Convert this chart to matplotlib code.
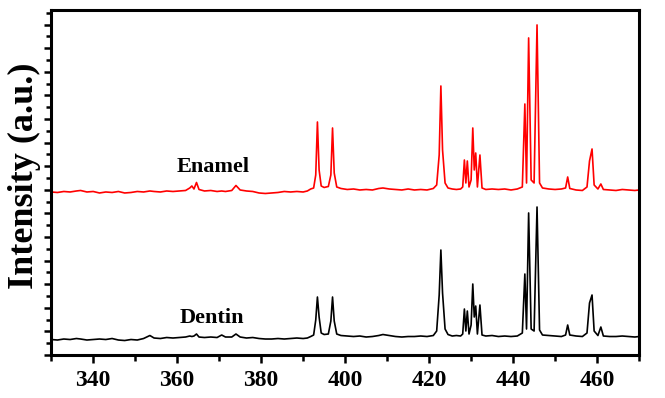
import matplotlib
matplotlib.use("Agg")
import matplotlib.pyplot as plt
from matplotlib.ticker import MultipleLocator, NullFormatter

# Raman shift grid (shared by both spectra) and intensities
shift = [
    330.0, 331.5, 333.0, 334.5, 336.0, 337.0, 338.5, 340.0, 341.5, 343.0,
    344.5, 346.0, 347.5, 349.0, 350.5, 352.0, 353.5, 354.5, 356.0, 357.5,
    359.0, 360.5, 362.0, 363.0, 363.5, 364.0, 364.6, 365.2, 366.5, 368.0,
    369.5, 370.6, 371.5, 373.0, 374.0, 375.0, 376.5, 378.0, 379.5, 381.0,
    382.5, 384.0, 385.5, 387.0, 388.5, 390.0, 391.0, 391.8, 392.5, 393.0,
    393.4, 393.8, 394.3, 395.0, 396.0, 396.6, 397.0, 397.4, 398.0, 399.0,
    400.5, 402.0, 403.5, 405.0, 406.5, 408.0, 409.0, 410.5, 412.0, 413.5,
    415.0, 416.5, 418.0, 419.5, 421.0, 421.8, 422.4, 422.8, 423.2, 423.8,
    424.5, 425.5, 426.5, 427.5, 428.0, 428.4, 428.75, 429.1, 429.5, 430.0,
    430.4, 430.75, 431.1, 431.5, 432.1, 432.6, 433.5, 435.0, 436.5, 438.0,
    439.5, 441.0, 442.2, 442.8, 443.2, 443.7, 444.3, 445.0, 445.7, 446.3,
    447.0, 448.5, 450.0, 451.5, 452.5, 453.0, 453.5, 455.0, 456.5, 457.6,
    458.2, 458.8, 459.3, 460.2, 460.9, 461.5, 463.0, 464.5, 466.0, 467.5,
    469.0, 470.0,
]
enamel = [
    163.0, 162.5, 163.5, 163.0, 164.0, 164.5, 163.0, 163.5, 162.0, 163.0,
    162.5, 163.5, 162.0, 162.5, 163.5, 163.0, 164.0, 163.5, 163.0, 164.0,
    163.5, 164.0, 164.5, 167.0, 169.0, 166.0, 172.5, 165.5, 164.0, 164.5,
    163.5, 164.0, 163.5, 164.5, 169.5, 165.0, 164.0, 163.5, 162.0, 161.5,
    162.0, 162.5, 163.5, 163.0, 163.5, 163.0, 164.0, 166.0, 167.0, 180.0,
    233.0, 185.0, 169.0, 167.5, 168.5, 180.0, 227.0, 182.0, 168.0, 166.5,
    165.5, 166.0, 165.0, 165.5, 165.0, 166.5, 167.0, 166.0, 165.5, 165.0,
    166.0, 165.0, 165.5, 165.0, 166.5, 170.0, 200.0, 269.0, 205.0, 172.0,
    167.0, 166.0, 165.5, 166.0, 168.0, 195.0, 172.0, 194.0, 168.0, 175.0,
    227.0, 185.0, 202.0, 168.0, 200.0, 167.0, 165.5, 166.0, 165.5, 166.0,
    165.0, 166.0, 168.0, 251.0, 172.0, 317.0, 175.0, 172.0, 330.0, 172.0,
    167.0, 166.0, 165.5, 166.0, 167.0, 178.0, 166.5, 165.0, 164.5, 168.0,
    194.0, 206.0, 170.0, 166.0, 171.0, 165.5, 165.0, 164.5, 165.5, 165.0,
    164.5, 165.0,
]
dentin = [
    15.5, 15.0, 16.0, 15.5, 16.5, 16.0, 15.0, 15.5, 16.0, 15.5,
    16.5, 15.0, 14.5, 15.5, 15.0, 16.5, 19.5, 17.0, 16.5, 17.5,
    17.0, 17.5, 18.0, 19.0, 18.5, 19.0, 21.0, 18.0, 17.5, 18.0,
    17.5, 20.0, 18.0, 18.0, 21.0, 18.0, 17.0, 17.5, 16.5, 16.0,
    16.0, 16.5, 16.0, 16.5, 17.0, 16.5, 17.0, 18.5, 20.0, 35.0,
    58.0, 38.0, 22.0, 20.5, 21.0, 34.0, 58.0, 34.0, 21.0, 19.5,
    19.0, 18.5, 19.0, 18.0, 18.5, 19.5, 20.5, 19.5, 18.5, 18.0,
    18.5, 18.5, 19.0, 18.5, 19.5, 24.0, 60.0, 105.0, 62.0, 26.0,
    20.5, 19.0, 19.5, 19.0, 21.0, 46.0, 24.0, 44.0, 21.0, 30.0,
    71.0, 38.0, 49.0, 21.0, 50.0, 20.0, 19.0, 19.5, 18.5, 19.0,
    18.5, 19.0, 22.0, 81.0, 26.0, 142.0, 26.0, 24.0, 148.0, 25.0,
    20.0, 19.5, 19.0, 18.5, 20.0, 30.0, 20.0, 19.0, 18.5, 22.0,
    52.0, 60.0, 24.0, 19.5, 28.0, 19.0, 18.5, 18.5, 19.0, 18.5,
    18.0, 18.5,
]

plt.rcParams.update({
    "font.family": ["Liberation Serif", "DejaVu Serif"],
    "font.weight": "bold",
})

fig = plt.figure(figsize=(6.65, 3.98), dpi=100)
ax = fig.add_axes([0.077, 0.108, 0.884, 0.867])

ax.plot(shift, enamel, color="#ff0000", lw=1.2)
ax.plot(shift, dentin, color="black", lw=1.2)

ax.text(368.5, 188, "Enamel", ha="center", va="center", fontsize=16, fontweight="bold")
ax.text(368.3, 37, "Dentin", ha="center", va="center", fontsize=16, fontweight="bold")

ax.set_xlim(330, 470)
ax.set_ylim(0, 345)
ax.set_ylabel("Intensity (a.u.)", fontsize=26, fontweight="bold", va="center")
ax.yaxis.set_label_coords(-0.046, 0.52)

ax.xaxis.set_major_locator(MultipleLocator(20))
ax.xaxis.set_minor_locator(MultipleLocator(10))
ax.yaxis.set_major_locator(MultipleLocator(23.6))
ax.yaxis.set_minor_locator(MultipleLocator(11.8))
ax.yaxis.set_major_formatter(NullFormatter())

ax.tick_params(axis="both", which="both", direction="out", width=1.8,
               top=False, right=False)
ax.tick_params(axis="x", which="major", length=6, labelsize=17, pad=5)
ax.tick_params(axis="x", which="minor", length=4)
ax.tick_params(axis="y", which="major", length=5)
ax.tick_params(axis="y", which="minor", length=3.5)
for lab in ax.get_xticklabels():
    lab.set_fontweight("bold")

for sp in ax.spines.values():
    sp.set_linewidth(2.2)

fig.savefig("out.png", dpi=100, facecolor="white")
